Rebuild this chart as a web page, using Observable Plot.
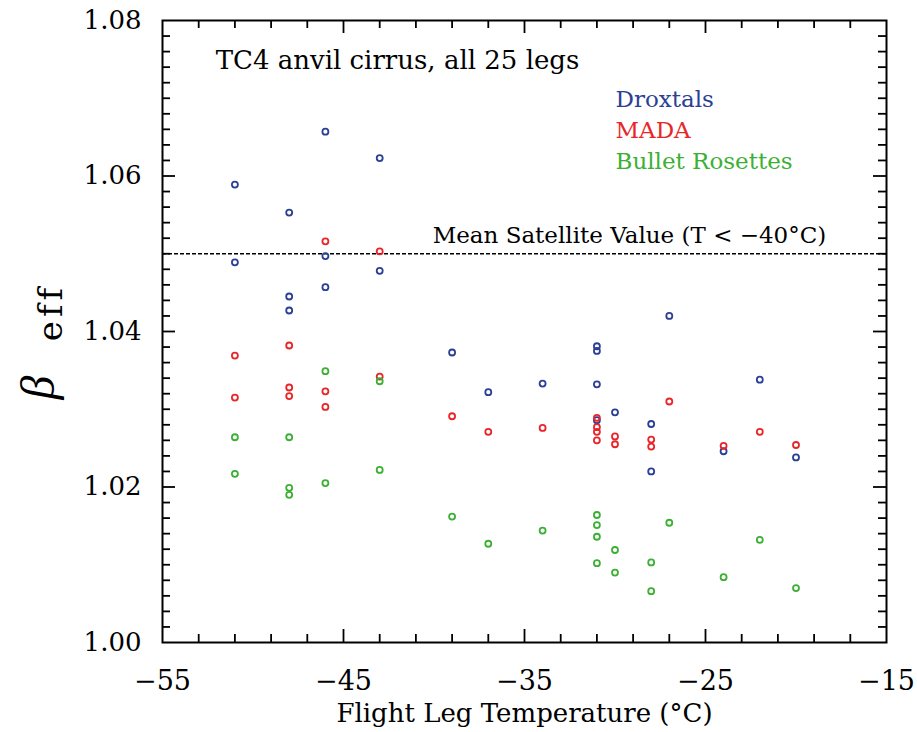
<!DOCTYPE html>
<html>
<head>
<meta charset="utf-8">
<script src="https://cdn.jsdelivr.net/npm/d3@7"></script>
<script src="https://cdn.jsdelivr.net/npm/@observablehq/plot@0.6"></script>
<style>
  html, body { margin: 0; padding: 0; background: #ffffff; }
  #chart svg { display: block; }
</style>
</head>
<body>
<div id="chart"></div>
<script>
// ---- Data ----
const droxtalTemp = [-51,-51,-48,-48,-48,-46,-46,-46,-43,-43,-39,-37,-34,-31,-31,-31,-31,-30,-28,-28,-27,-24,-22,-20];
const droxtalBeta = [1.0589,1.0489,1.0553,1.0445,1.0427,1.0657,1.0497,1.0457,1.0623,1.0478,1.0373,1.0322,1.0333,1.0381,1.0375,1.0332,1.0286,1.0296,1.0281,1.0220,1.0420,1.0246,1.0338,1.0238];

const madaTemp = [-51,-51,-48,-48,-48,-46,-46,-46,-43,-43,-39,-37,-34,-31,-31,-31,-31,-30,-30,-28,-28,-27,-24,-22,-20];
const madaBeta = [1.0369,1.0315,1.0382,1.0328,1.0317,1.0516,1.0323,1.0303,1.0503,1.0342,1.0291,1.0271,1.0276,1.0289,1.0277,1.0271,1.0260,1.0265,1.0255,1.0261,1.0252,1.0310,1.0253,1.0271,1.0254];

const bulletTemp = [-51,-51,-48,-48,-48,-46,-46,-43,-43,-39,-37,-34,-31,-31,-31,-31,-30,-30,-28,-28,-27,-24,-22,-20];
const bulletBeta = [1.0264,1.0217,1.0264,1.0199,1.0190,1.0349,1.0205,1.0336,1.0222,1.0162,1.0127,1.0144,1.0164,1.0151,1.0136,1.0102,1.0119,1.0090,1.0103,1.0066,1.0154,1.0084,1.0132,1.0070];

const seriesNames = ["Droxtals", "MADA", "Bullet Rosettes"];
const seriesColors = ["#2b3f96", "#e8262a", "#3cb035"];

const satelliteMean = [1.05];

const xTicks = [-55, -45, -35, -25, -15];
const yTicks = [1.00, 1.02, 1.04, 1.06, 1.08];

const titleText = "TC4 anvil cirrus, all 25 legs";
const satelliteText = "Mean Satellite Value (T < \u221240\u00B0C)";
const xLabel = "Flight Leg Temperature (\u00B0C)";

// ---- Build table ----
const table = [];
[[droxtalTemp, droxtalBeta], [madaTemp, madaBeta], [bulletTemp, bulletBeta]].forEach(([ts, bs], k) => {
  ts.forEach((t, i) => table.push({T: t, beta: bs[i], type: seriesNames[k]}));
});

// ---- Layout ----
const W = 917, H = 732;
const mL = 162, mR = 31, mT = 20, mB = 90;
const fw = W - mL - mR, fh = H - mT - mB;

// minor / major frame tick positions (pointing inward)
const xMinor = d3.range(-53, -15, 2).filter(v => (v + 55) % 10 !== 0);
const xMajor = xTicks.slice(1, -1);
const yMinor = d3.range(1, 40).filter(i => i % 10 !== 0).map(i => 1 + i * 0.002);
const yMajor = yTicks.slice(1, -1);

const serif = "DejaVu Serif";
const minorLen = 8, majorLen = 13, tickW = 1.8;
const legendDy = [79, 110, 141];

const plot = Plot.plot({
  width: W,
  height: H,
  marginLeft: mL, marginRight: mR, marginTop: mT, marginBottom: mB,
  style: {background: "#ffffff", overflow: "visible"},
  x: {domain: [-55, -15]},
  y: {domain: [1.00, 1.08]},
  color: {domain: seriesNames, range: seriesColors},
  marks: [
    // inward frame ticks
    Plot.tickX(xMinor, {x: d => d, insetBottom: fh - minorLen, strokeWidth: tickW}),
    Plot.tickX(xMinor, {x: d => d, insetTop: fh - minorLen, strokeWidth: tickW}),
    Plot.tickX(xMajor, {x: d => d, insetBottom: fh - majorLen, strokeWidth: tickW}),
    Plot.tickX(xMajor, {x: d => d, insetTop: fh - majorLen, strokeWidth: tickW}),
    Plot.tickY(yMinor, {y: d => d, insetRight: fw - minorLen, strokeWidth: tickW}),
    Plot.tickY(yMinor, {y: d => d, insetLeft: fw - minorLen, strokeWidth: tickW}),
    Plot.tickY(yMajor, {y: d => d, insetRight: fw - majorLen, strokeWidth: tickW}),
    Plot.tickY(yMajor, {y: d => d, insetLeft: fw - majorLen, strokeWidth: tickW}),
    // tick labels
    Plot.axisX({ticks: xTicks, tickSize: 0, tickPadding: 28, tickFormat: d3.format("d"),
      fontSize: 27, fontFamily: serif, label: null}),
    Plot.axisY({ticks: yTicks, tickSize: 0, tickPadding: 21, tickFormat: d3.format(".2f"),
      fontSize: 26, fontFamily: serif, label: null}),
    // satellite mean line
    Plot.ruleY(satelliteMean, {y: d => d, strokeWidth: 1.5, strokeDasharray: "4,2"}),
    // data points
    Plot.dot(table, {x: "T", y: "beta", stroke: "type", r: 3, strokeWidth: 1.8, fill: "none"}),
    // frame
    Plot.frame({strokeWidth: 2}),
    // annotations
    Plot.text([titleText], {text: d => d, frameAnchor: "top-left", dx: 235, dy: 40,
      textAnchor: "middle", lineAnchor: "middle", fontSize: 26, fontFamily: serif}),
    ...seriesNames.map((name, k) => Plot.text([name], {text: d => d, frameAnchor: "top-left",
      dx: 453, dy: legendDy[k], textAnchor: "start", lineAnchor: "middle",
      fontSize: 23, fontFamily: serif, fill: seriesColors[k]})),
    Plot.text([satelliteText], {text: d => d, frameAnchor: "top-left", dx: 467, dy: 215,
      textAnchor: "middle", lineAnchor: "middle", fontSize: 23, fontFamily: serif}),
    Plot.text([xLabel], {text: d => d, frameAnchor: "bottom", dy: 71,
      textAnchor: "middle", lineAnchor: "middle", fontSize: 26, fontFamily: serif}),
    Plot.text(["\u03B2"], {text: d => d, frameAnchor: "left", dx: -124, dy: 56, rotate: -90,
      textAnchor: "middle", lineAnchor: "middle", fontSize: 48, fontStyle: "italic", fontFamily: "Liberation Serif"}),
    Plot.text(["eff"], {text: d => d, frameAnchor: "left", dx: -111, dy: -19, rotate: -90,
      textAnchor: "middle", lineAnchor: "middle", fontSize: 34, fontFamily: serif})
  ]
});

// widen the subscript letters a little, like the reference
d3.select(plot).selectAll("text").filter(function() { return this.textContent === "eff"; })
  .style("letter-spacing", "4px");

document.getElementById("chart").appendChild(plot);
</script>
</body>
</html>
